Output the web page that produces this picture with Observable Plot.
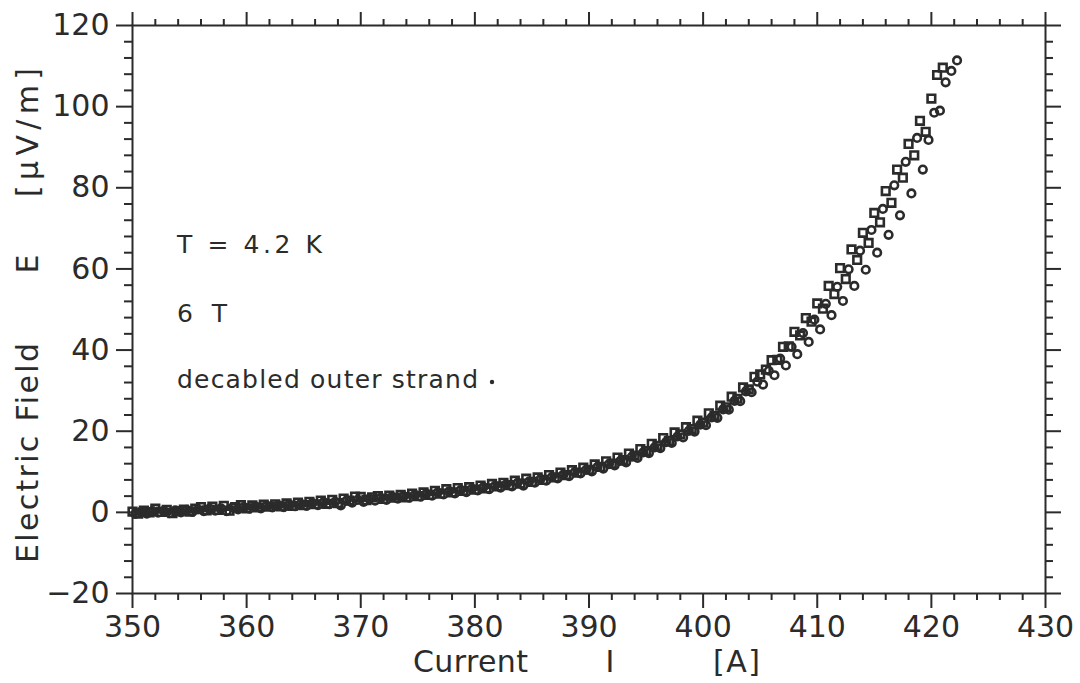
<!DOCTYPE html>
<html>
<head>
<meta charset="utf-8">
<script src="https://cdn.jsdelivr.net/npm/d3@7"></script>
<script src="https://cdn.jsdelivr.net/npm/@observablehq/plot@0.6"></script>
<style>
  html, body { margin: 0; padding: 0; background: #fff; }
  #chart { width: 1080px; height: 683px; }
</style>
</head>
<body>
<div id="chart"></div>
<script>
// ---- tick values ----
const xMajor = [350, 360, 370, 380, 390, 400, 410, 420, 430];
const xMinor = [352, 354, 356, 358, 362, 364, 366, 368, 372, 374, 376, 378, 382, 384, 386, 388,
                392, 394, 396, 398, 402, 404, 406, 408, 412, 414, 416, 418, 422, 424, 426, 428];
const yMajor = [-20, 0, 20, 40, 60, 80, 100, 120];
const yMinor = [-16, -12, -8, -4, 4, 8, 12, 16, 24, 28, 32, 36, 44, 48, 52, 56,
                64, 68, 72, 76, 84, 88, 92, 96, 104, 108, 112, 116];

// ---- series 1 (squares): current I [A] and electric field E [µV/m] ----
const sqI = [350.0,350.5,351.0,351.5,352.0,352.5,353.0,353.5,354.0,354.5,355.0,355.5,356.0,356.5,357.0,357.5,
  358.0,358.5,359.0,359.5,360.0,360.5,361.0,361.5,362.0,362.5,363.0,363.5,364.0,364.5,365.0,365.5,
  366.0,366.5,367.0,367.5,368.0,368.5,369.0,369.5,370.0,370.5,371.0,371.5,372.0,372.5,373.0,373.5,
  374.0,374.5,375.0,375.5,376.0,376.5,377.0,377.5,378.0,378.5,379.0,379.5,380.0,380.5,381.0,381.5,
  382.0,382.5,383.0,383.5,384.0,384.5,385.0,385.5,386.0,386.5,387.0,387.5,388.0,388.5,389.0,389.5,
  390.0,390.5,391.0,391.5,392.0,392.5,393.0,393.5,394.0,394.5,395.0,395.5,396.0,396.5,397.0,397.5,
  398.0,398.5,399.0,399.5,400.0,400.5,401.0,401.5,402.0,402.5,403.0,403.5,404.0,404.5,405.0,405.5,
  406.0,406.5,407.0,407.5,408.0,408.5,409.0,409.5,410.0,410.5,411.0,411.5,412.0,412.5,413.0,413.5,
  414.0,414.5,415.0,415.5,416.0,416.5,417.0,417.5,418.0,418.5,419.0,419.5,420.0,420.5,421.0];
const sqE = [0.2,-0.3,0.4,0.0,0.9,0.1,0.6,-0.2,0.3,0.7,0.2,0.9,1.3,0.5,1.4,0.6,
  1.6,0.4,1.3,1.8,1.0,1.7,1.2,1.9,1.4,2.0,1.5,2.2,1.6,2.4,1.8,2.6,
  2.0,2.9,2.1,3.1,2.3,3.4,2.9,3.9,3.8,3.0,3.7,4.0,3.3,4.1,3.6,4.3,
  3.7,4.6,4.0,4.9,4.3,5.3,4.6,5.7,4.9,6.0,5.3,6.2,5.6,6.6,5.9,7.0,
  6.4,7.3,6.7,7.8,7.1,8.3,7.5,8.6,8.0,9.2,8.6,9.8,9.2,10.4,9.8,11.0,
  10.5,11.8,11.2,12.6,12.0,13.5,12.9,14.5,14.0,15.6,15.1,16.9,16.4,18.3,17.6,19.7,
  19.2,21.0,20.5,22.6,22.1,24.4,23.8,26.3,25.9,28.5,28.0,30.8,30.3,33.4,34.0,35.2,
  37.5,37.6,40.8,40.9,44.5,43.6,47.9,47.0,51.5,50.2,55.8,53.8,60.2,57.5,64.8,62.2,
  68.9,66.4,73.8,71.5,79.2,76.3,84.5,82.5,90.8,88.0,96.5,93.8,102.0,107.8,109.6];

// ---- series 2 (circles) ----
const ciI = [350.25,350.75,351.25,351.75,352.25,352.75,353.25,353.75,354.25,354.75,355.25,355.75,356.25,356.75,357.25,357.75,
  358.25,358.75,359.25,359.75,360.25,360.75,361.25,361.75,362.25,362.75,363.25,363.75,364.25,364.75,365.25,365.75,
  366.25,366.75,367.25,367.75,368.25,368.75,369.25,369.75,370.25,370.75,371.25,371.75,372.25,372.75,373.25,373.75,
  374.25,374.75,375.25,375.75,376.25,376.75,377.25,377.75,378.25,378.75,379.25,379.75,380.25,380.75,381.25,381.75,
  382.25,382.75,383.25,383.75,384.25,384.75,385.25,385.75,386.25,386.75,387.25,387.75,388.25,388.75,389.25,389.75,
  390.25,390.75,391.25,391.75,392.25,392.75,393.25,393.75,394.25,394.75,395.25,395.75,396.25,396.75,397.25,397.75,
  398.25,398.75,399.25,399.75,400.25,400.75,401.25,401.75,402.25,402.75,403.25,403.75,404.25,404.75,405.25,405.75,
  406.25,406.75,407.25,407.75,408.25,408.75,409.25,409.75,410.25,410.75,411.25,411.75,412.25,412.75,413.25,413.75,
  414.25,414.75,415.25,415.75,416.25,416.75,417.25,417.75,418.25,418.75,419.25,419.75,420.25,420.75,421.25,421.75,422.25];
const ciE = [-0.4,0.2,-0.3,0.3,-0.1,0.4,-0.2,0.5,0.0,0.6,0.1,0.7,0.3,0.9,0.4,1.0,
  0.3,1.2,0.7,1.3,0.9,1.5,1.0,1.6,1.2,1.8,1.3,1.9,1.5,2.1,1.6,2.3,
  1.8,2.5,2.0,2.6,1.7,2.9,2.4,3.1,2.6,3.4,2.9,3.6,3.1,3.8,3.4,4.0,
  3.6,4.3,3.9,4.6,4.1,4.9,4.4,5.2,4.7,5.5,5.0,5.8,5.4,6.2,5.7,6.5,
  6.1,6.9,6.4,7.3,6.6,7.6,7.3,8.2,7.8,8.7,8.4,9.3,8.9,9.9,9.6,10.5,
  10.1,11.2,10.8,11.9,11.6,12.7,12.3,13.7,13.4,14.8,14.6,16.0,15.8,17.3,17.1,18.7,
  18.5,20.1,19.9,21.6,21.5,23.4,23.3,25.4,25.3,27.5,27.4,29.8,29.6,32.2,31.5,34.9,
  33.8,37.9,36.2,40.8,39.0,44.2,42.0,47.5,45.1,51.4,48.6,55.6,52.1,59.9,55.8,64.5,
  59.8,69.6,64.0,74.8,68.4,80.6,73.2,86.4,78.6,92.3,84.5,91.8,98.5,99.0,106.0,108.8,111.4];

const squares = sqI.map((I, i) => ({I, E: sqE[i]}));
const circles = ciI.map((I, i) => ({I, E: ciE[i]}));

const ink = "#2b2b2b";
const font = "DejaVu Sans";
const blank = () => "";

const chart = Plot.plot({
  width: 1080,
  height: 683,
  marginLeft: 132,
  marginRight: 35,
  marginTop: 25,
  marginBottom: 90,
  style: {fontFamily: font, color: ink, background: "#fff", overflow: "visible"},
  x: {domain: [350, 430]},
  y: {domain: [-20, 120]},
  marks: [
    Plot.frame({stroke: ink, strokeWidth: 2}),
    // bottom axis
    Plot.axisX({anchor: "bottom", ticks: xMajor, tickSize: 15, tickPadding: 7, fontSize: 30, strokeWidth: 2, label: null, stroke: ink, fill: ink}),
    Plot.axisX({anchor: "bottom", ticks: xMinor, tickSize: 7, tickFormat: blank, strokeWidth: 2, label: null, stroke: ink}),
    // top axis
    Plot.axisX({anchor: "top", ticks: xMajor, tickSize: 14, tickFormat: blank, strokeWidth: 2, label: null, stroke: ink}),
    Plot.axisX({anchor: "top", ticks: xMinor, tickSize: 7, tickFormat: blank, strokeWidth: 2, label: null, stroke: ink}),
    // left axis
    Plot.axisY({anchor: "left", ticks: yMajor, tickSize: 16, tickPadding: 7, fontSize: 30, strokeWidth: 2, label: null, stroke: ink, fill: ink}),
    Plot.axisY({anchor: "left", ticks: yMinor, tickSize: 8, tickFormat: blank, strokeWidth: 2, label: null, stroke: ink}),
    // right axis
    Plot.axisY({anchor: "right", ticks: yMajor, tickSize: 15, tickFormat: blank, strokeWidth: 2, label: null, stroke: ink}),
    Plot.axisY({anchor: "right", ticks: yMinor, tickSize: 7, tickFormat: blank, strokeWidth: 2, label: null, stroke: ink}),
    // data
    Plot.dot(squares, {x: "I", y: "E", symbol: "square", r: 4.3, stroke: ink, strokeWidth: 2.6, fill: "none"}),
    Plot.dot(circles, {x: "I", y: "E", symbol: "circle", r: 3.8, stroke: ink, strokeWidth: 2.6, fill: "none"})
  ]
});

document.getElementById("chart").appendChild(chart);

// ---- titles and annotations ----
const svg = d3.select(chart);
const addText = (txt, x, y, size, len, anchor = "start", rotate = false) => {
  const t = svg.append("text")
    .attr("x", x).attr("y", y)
    .attr("font-family", font)
    .attr("font-size", size)
    .attr("fill", ink)
    .attr("text-anchor", anchor)
    .style("white-space", "pre")
    .text(txt);
  if (len) t.attr("textLength", len).attr("lengthAdjust", "spacing");
  if (rotate) t.attr("transform", `rotate(-90, ${x}, ${y})`);
  return t;
};

// x axis title
addText("Current", 413, 672, 30, 115);
addText("I", 610, 672, 30, null, "middle");
addText("[A]", 713, 672, 30, 47);

// y axis title (rotated)
addText("Electric Field", 38, 563, 30, 220, "start", true);
addText("E", 38, 264, 30, null, "middle", true);
addText("[µV/m]", 38, 197, 30, 129, "start", true);

// annotations
addText("T = 4.2 K", 177, 253, 25, 145);
addText("6 T", 177, 322, 25, 50);
addText("decabled outer strand", 177, 388, 25, 301);
svg.append("circle").attr("cx", 492).attr("cy", 382).attr("r", 2.2).attr("fill", ink);
</script>
</body>
</html>
